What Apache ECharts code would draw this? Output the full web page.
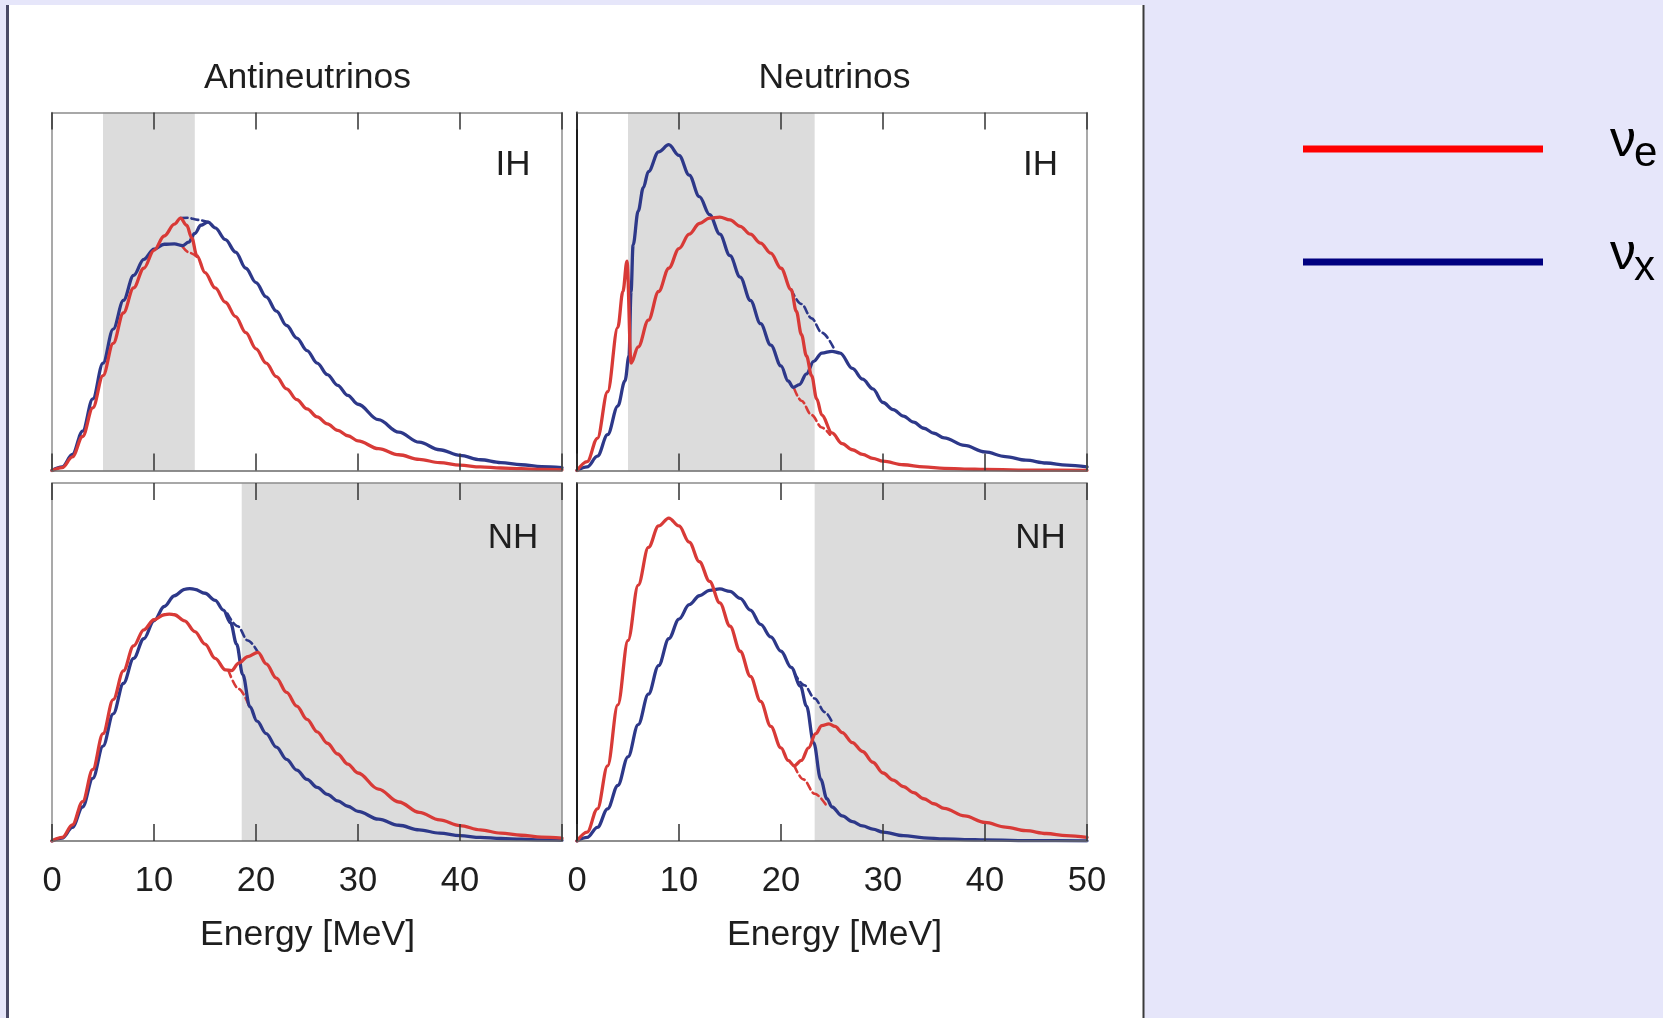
<!DOCTYPE html>
<html>
<head>
<meta charset="utf-8">
<script src="https://cdn.jsdelivr.net/npm/echarts@6/dist/echarts.min.js"></script>
<style>
html,body{margin:0;padding:0;background:#e6e6fa;}
#c{width:1663px;height:1018px;}
</style>
</head>
<body>
<div id="c"></div>
<script>
// ---------- data ----------
const xTicks = [0, 10, 20, 30, 40, 50];
const panelTitles = ['Antineutrinos', 'Neutrinos'];
const hierarchyLabels = ['IH', 'IH', 'NH', 'NH'];
const axisTitle = 'Energy [MeV]';

// swap (shaded) energy bands [MeV]
const bandAntiIH = [5, 14];
const bandNuIH = [5, 23.3];
const bandAntiNH = [18.6, 50];
const bandNuNH = [23.3, 50];

// Antineutrinos, IH (top left)
const antiIH_e = [[0,0],[1,0.008],[2,0.038],[3,0.095],[4,0.175],[5,0.265],[6,0.355],[7,0.44],[8,0.51],[9,0.565],[10,0.615],[11,0.655],[12,0.688],[12.6,0.705],[13.2,0.685],[13.7,0.65],[14.2,0.6],[15,0.553],[16,0.51],[17,0.47],[18,0.43],[19,0.385],[20,0.34],[21,0.3],[22,0.262],[23,0.228],[24,0.198],[25,0.172],[26,0.15],[27,0.13],[28,0.112],[29,0.097],[30,0.083],[32,0.061],[34,0.044],[36,0.031],[38,0.022],[40,0.015],[42,0.01],[44,0.007],[46,0.005],[48,0.003],[50,0.002]];
const antiIH_x = [[0,0],[1,0.01],[2,0.045],[3,0.11],[4,0.2],[5,0.3],[6,0.395],[7,0.475],[8,0.545],[9,0.59],[10,0.618],[11,0.632],[12,0.633],[12.8,0.628],[13.4,0.638],[14,0.662],[14.6,0.685],[15.3,0.694],[16,0.678],[17,0.645],[18,0.61],[19,0.565],[20,0.525],[21,0.485],[22,0.445],[23,0.405],[24,0.37],[25,0.335],[26,0.3],[27,0.268],[28,0.238],[29,0.21],[30,0.185],[32,0.142],[34,0.107],[36,0.079],[38,0.058],[40,0.042],[42,0.03],[44,0.022],[46,0.016],[48,0.011],[50,0.008]];
const antiIH_eDash = [[12.8,0.625],[13.5,0.608],[14.2,0.597]];
const antiIH_xDash = [[12.6,0.705],[13.3,0.706],[14.3,0.7],[15.3,0.694]];

// Neutrinos, IH (top right)
const nuIH_e = [[0,0],[1,0.025],[2,0.09],[3,0.22],[4,0.4],[4.5,0.5],[4.9,0.585],[5.3,0.3],[6,0.345],[7,0.42],[8,0.5],[9,0.565],[10,0.62],[11,0.66],[12,0.69],[13,0.705],[14,0.708],[15,0.7],[16,0.682],[17,0.66],[18,0.635],[19,0.607],[20,0.565],[21,0.505],[21.5,0.445],[22,0.38],[22.5,0.32],[23,0.265],[23.5,0.2],[24,0.155],[25,0.105],[26,0.075],[27,0.058],[28,0.045],[29,0.034],[30,0.026],[32,0.016],[34,0.01],[36,0.006],[38,0.004],[40,0.003],[45,0.001],[50,0.0005]];
const nuIH_x = [[0,0],[1,0.01],[2,0.04],[3,0.1],[4,0.18],[4.7,0.25],[5.1,0.32],[5.3,0.5],[5.5,0.63],[6,0.725],[6.5,0.79],[7,0.835],[8,0.89],[9,0.91],[10,0.88],[11,0.825],[12,0.765],[13,0.715],[14,0.66],[15,0.6],[16,0.54],[17,0.475],[18,0.41],[19,0.35],[20,0.292],[20.7,0.25],[21.2,0.232],[21.8,0.24],[22.5,0.27],[23.2,0.305],[24,0.328],[25,0.333],[25.8,0.328],[27,0.285],[28,0.255],[29,0.228],[30,0.19],[31,0.17],[32,0.152],[33,0.135],[34,0.118],[35,0.104],[36,0.091],[38,0.07],[40,0.052],[42,0.039],[44,0.029],[46,0.021],[48,0.015],[50,0.01]];
const nuIH_eDash = [[21.3,0.228],[22,0.195],[23,0.155],[24,0.12],[24.8,0.1]];
const nuIH_xDash = [[21,0.505],[22,0.465],[23,0.425],[24,0.385],[25.3,0.335]];

// Antineutrinos, NH (bottom left)
const antiNH_e = [[0,0],[1,0.01],[2,0.045],[3,0.11],[4,0.2],[5,0.3],[6,0.395],[7,0.475],[8,0.545],[9,0.59],[10,0.618],[11,0.632],[11.5,0.634],[12,0.632],[13,0.615],[14,0.585],[15,0.55],[16,0.51],[17,0.478],[17.6,0.476],[18.3,0.497],[19.2,0.515],[20.2,0.527],[21,0.495],[22,0.455],[23,0.415],[24,0.377],[25,0.34],[26,0.305],[27,0.273],[28,0.243],[29,0.215],[30,0.19],[32,0.145],[34,0.109],[36,0.08],[38,0.059],[40,0.043],[42,0.031],[44,0.022],[46,0.016],[48,0.011],[50,0.008]];
const antiNH_x = [[0,0],[1,0.008],[2,0.038],[3,0.095],[4,0.175],[5,0.265],[6,0.355],[7,0.44],[8,0.51],[9,0.565],[10,0.615],[11,0.655],[12,0.685],[13,0.703],[13.5,0.705],[14,0.703],[15,0.692],[16,0.672],[16.8,0.645],[17.5,0.61],[18.1,0.55],[18.7,0.465],[19.4,0.375],[20.1,0.335],[21,0.3],[22,0.262],[23,0.228],[24,0.198],[25,0.172],[26,0.15],[27,0.13],[28,0.112],[29,0.097],[30,0.083],[32,0.061],[34,0.044],[36,0.031],[38,0.022],[40,0.015],[42,0.01],[44,0.007],[46,0.005],[48,0.003],[50,0.002]];
const antiNH_eDash = [[17.3,0.476],[18.3,0.425],[19.4,0.372]];
const antiNH_xDash = [[17.2,0.635],[18.2,0.6],[19.2,0.56],[20.2,0.527]];

// Neutrinos, NH (bottom right)
const nuNH_e = [[0,0],[1,0.025],[2,0.09],[3,0.21],[4,0.38],[5,0.56],[6,0.715],[7,0.82],[8,0.88],[9,0.902],[10,0.88],[11,0.835],[12,0.78],[13,0.725],[14,0.665],[15,0.6],[16,0.53],[17,0.46],[18,0.39],[19,0.32],[20,0.26],[20.7,0.225],[21.3,0.21],[22,0.225],[22.7,0.26],[23.4,0.3],[24,0.322],[24.7,0.327],[25.3,0.32],[26,0.303],[27,0.275],[28,0.25],[29,0.22],[30,0.19],[31,0.17],[32,0.152],[33,0.135],[34,0.118],[35,0.104],[36,0.091],[38,0.07],[40,0.052],[42,0.039],[44,0.029],[46,0.021],[48,0.015],[50,0.01]];
const nuNH_x = [[0,0],[1,0.01],[2,0.038],[3,0.09],[4,0.155],[5,0.235],[6,0.325],[7,0.41],[8,0.49],[9,0.565],[10,0.62],[11,0.66],[12,0.685],[13,0.7],[14,0.704],[15,0.697],[16,0.678],[17,0.645],[18,0.605],[19,0.57],[20,0.53],[21,0.485],[21.9,0.433],[22.5,0.377],[23.2,0.275],[23.9,0.172],[24.5,0.118],[25,0.095],[26,0.07],[27,0.054],[28,0.042],[29,0.033],[30,0.025],[32,0.015],[34,0.009],[36,0.006],[38,0.004],[40,0.003],[45,0.001],[50,0.0005]];
const nuNH_eDash = [[21.3,0.21],[22.2,0.172],[23.3,0.132],[24.5,0.097]];
const nuNH_xDash = [[21.3,0.47],[22.3,0.435],[23.3,0.398],[24.3,0.36],[25,0.333]];

const legendNames = ['ν', 'ν'];
const legendSubs = ['e', 'x'];

// ---------- layout / style ----------
const RED = '#d83a37';
const BLUE = '#2d3889';
const FONT = "'Liberation Sans', Arial, Helvetica, sans-serif";
const TXT = '#1e1e1e';

const gridBoxes = [
  {left: 52,  top: 112.5, width: 510, height: 358},
  {left: 577, top: 112.5, width: 510, height: 358},
  {left: 52,  top: 483,   width: 510, height: 358},
  {left: 577, top: 483,   width: 510, height: 358}
];
const panels = [
  {e: antiIH_e, x: antiIH_x, ed: antiIH_eDash, xd: antiIH_xDash, band: bandAntiIH},
  {e: nuIH_e,   x: nuIH_x,   ed: nuIH_eDash,   xd: nuIH_xDash,   band: bandNuIH},
  {e: antiNH_e, x: antiNH_x, ed: antiNH_eDash, xd: antiNH_xDash, band: bandAntiNH},
  {e: nuNH_e,   x: nuNH_x,   ed: nuNH_eDash,   xd: nuNH_xDash,   band: bandNuNH}
];

const grids = [], xAxes = [], yAxes = [], series = [];
gridBoxes.forEach((g, i) => {
  grids.push(Object.assign({show: true, backgroundColor: '#ffffff', borderWidth: 0}, g));
  const bottomRow = i >= 2;
  const rightCol = i % 2 === 1;
  const common = {
    gridIndex: i, type: 'value', min: xTicks[0], max: xTicks[xTicks.length - 1], interval: 10,
    splitLine: {show: false}, z: 10,
    axisTick: {show: true, inside: true, length: 17, lineStyle: {color: '#333', width: 1.5}}
  };
  xAxes.push(Object.assign({}, common, {
    position: 'bottom',
    axisLine: {show: true, onZero: false, lineStyle: {color: '#6a6a6a', width: 1.5}},
    axisLabel: {
      show: bottomRow, margin: 23, fontSize: 34.5, fontFamily: FONT, color: TXT,
      showMinLabel: true, showMaxLabel: true,
      formatter: v => (!rightCol && v === 50) ? '' : String(v)
    }
  }));
  xAxes.push(Object.assign({}, common, {
    position: 'top',
    axisLine: {show: true, onZero: false, lineStyle: {color: '#8c8c8c', width: 1.5}},
    axisLabel: {show: false}
  }));
  const ycommon = {gridIndex: i, type: 'value', min: 0, max: 1, splitLine: {show: false},
    axisTick: {show: false}, axisLabel: {show: false}, z: 10};
  yAxes.push(Object.assign({}, ycommon, {
    position: 'left',
    axisLine: {show: true, onZero: false, lineStyle: {color: rightCol ? '#1a1a1a' : '#8c8c8c', width: rightCol ? 2 : 1.5}}
  }));
  yAxes.push(Object.assign({}, ycommon, {
    position: 'right',
    axisLine: {show: true, onZero: false, lineStyle: {color: '#8c8c8c', width: 1.5}}
  }));

  const p = panels[i];
  const xi = i * 2, yi = i * 2;
  series.push({
    type: 'line', xAxisIndex: xi, yAxisIndex: yi, data: [], silent: true, z: 1,
    markArea: {silent: true, itemStyle: {color: '#dcdcdc'},
      data: [[{xAxis: p.band[0]}, {xAxis: p.band[1]}]]}
  });
  const line = (data, color, dashed, z) => ({
    type: 'line', xAxisIndex: xi, yAxisIndex: yi, data: data, showSymbol: false, symbol: 'none',
    smooth: 0.35, smoothMonotone: 'x', silent: true, z: z,
    lineStyle: {color: color, width: dashed ? 2.6 : 3.3, type: dashed ? [7, 4] : 'solid', cap: 'round', join: 'round'}
  });
  series.push(line(p.ed, RED, true, 3));
  series.push(line(p.xd, BLUE, true, 3));
  series.push(line(p.x, BLUE, false, 4));
  series.push(line(p.e, RED, false, 5));
});

const txt = (text, x, y, size, align) => ({
  type: 'text', x: x, y: y, silent: true, z: 50,
  style: {text: text, fill: TXT, font: size + 'px ' + FONT, align: align || 'center', verticalAlign: 'middle'}
});

const graphics = [
  {type: 'rect', z: -10, silent: true, shape: {x: 9, y: 5, width: 1134, height: 1013}, style: {fill: '#ffffff'}},
  {type: 'line', z: 60, silent: true, shape: {x1: 7.5, y1: 5, x2: 7.5, y2: 1018}, style: {stroke: '#4a4a66', lineWidth: 3}},
  {type: 'line', z: 60, silent: true, shape: {x1: 1143.5, y1: 5, x2: 1143.5, y2: 1018}, style: {stroke: '#3a3a3a', lineWidth: 2}},
  txt(panelTitles[0], 307.5, 78.5, 35.5),
  txt(panelTitles[1], 834.5, 78.5, 35.5),
  txt(hierarchyLabels[0], 513, 165.5, 35),
  txt(hierarchyLabels[1], 1040.5, 165.5, 35),
  txt(hierarchyLabels[2], 513, 538, 35),
  txt(hierarchyLabels[3], 1040.5, 538, 35),
  txt(axisTitle, 307.5, 935, 35.5),
  txt(axisTitle, 834.5, 935, 35.5),
  {type: 'line', z: 60, silent: true, shape: {x1: 1303, y1: 149, x2: 1543, y2: 149}, style: {stroke: '#ff0000', lineWidth: 7}},
  {type: 'line', z: 60, silent: true, shape: {x1: 1303, y1: 262, x2: 1543, y2: 262}, style: {stroke: '#000080', lineWidth: 7}},
  {type: 'text', z: 60, silent: true, x: 1610, y: 142, style: {text: legendNames[0], fill: '#000', font: '52px ' + FONT, align: 'left', verticalAlign: 'middle'}},
  {type: 'text', z: 60, silent: true, x: 1634, y: 154, style: {text: legendSubs[0], fill: '#000', font: '42px ' + FONT, align: 'left', verticalAlign: 'middle'}},
  {type: 'text', z: 60, silent: true, x: 1610, y: 255, style: {text: legendNames[1], fill: '#000', font: '52px ' + FONT, align: 'left', verticalAlign: 'middle'}},
  {type: 'text', z: 60, silent: true, x: 1634, y: 268, style: {text: legendSubs[1], fill: '#000', font: '42px ' + FONT, align: 'left', verticalAlign: 'middle'}}
];

const chart = echarts.init(document.getElementById('c'), null, {renderer: 'canvas', width: 1663, height: 1018});
chart.setOption({
  backgroundColor: '#e6e6fa',
  animation: false,
  grid: grids,
  xAxis: xAxes,
  yAxis: yAxes,
  series: series,
  graphic: graphics
});
</script>
</body>
</html>
